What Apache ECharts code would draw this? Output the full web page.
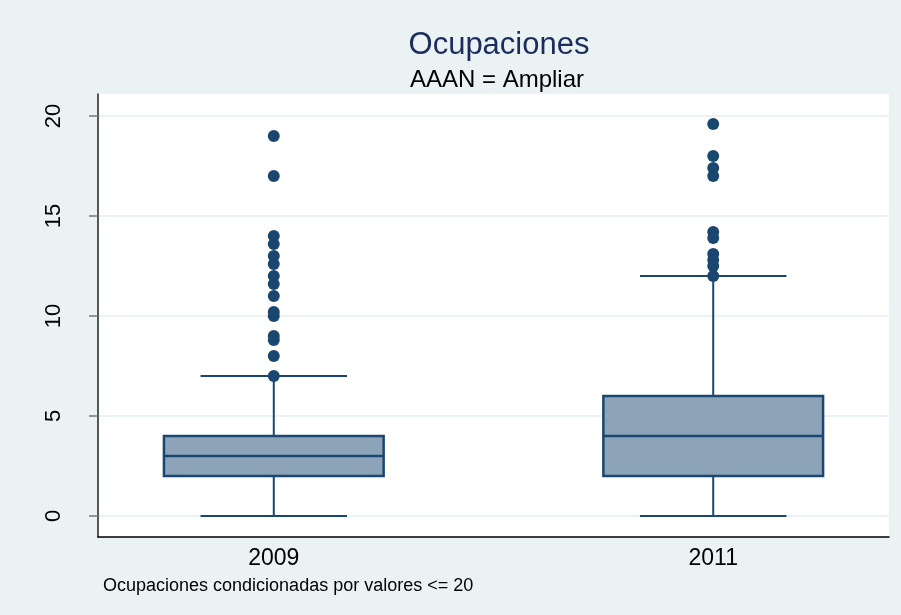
<!DOCTYPE html>
<html>
<head>
<meta charset="utf-8">
<script src="https://cdn.jsdelivr.net/npm/echarts@6/dist/echarts.min.js"></script>
<style>
  html, body { margin: 0; padding: 0; background: #eaf2f3; }
  #chart { width: 901px; height: 615px; }
</style>
</head>
<body>
<div id="chart"></div>
<script>
// box plot summary per year
const categories = ['2009', '2011'];
const lowWhisker = [0, 0];
const q1 = [2, 2];
const median = [3, 4];
const q3 = [4, 6];
const highWhisker = [7, 12];
const outliers2009 = [7, 8, 8.8, 9, 10, 10.2, 11, 11.6, 12, 12.6, 13, 13.6, 14, 17, 19];
const outliers2011 = [12, 12.5, 12.8, 13.1, 13.9, 14.2, 17, 17.4, 18, 19.6];
const yTicks = [0, 5, 10, 15, 20];

const navy = '#1a476f';
const font = 'Liberation Sans, Arial, sans-serif';

// x slot of each category on the 0..9 value axis
const slot = i => 2 + 5 * i;

const boxData = categories.map((c, i) =>
  [slot(i), lowWhisker[i], q1[i], median[i], q3[i], highWhisker[i]]);
const outlierData = []
  .concat(outliers2009.map(v => [slot(0), v]))
  .concat(outliers2011.map(v => [slot(1), v]));

function renderBox(params, api) {
  const x = api.value(0);
  const lo = api.coord([x, api.value(1)]);
  const b1 = api.coord([x, api.value(2)]);
  const md = api.coord([x, api.value(3)]);
  const b3 = api.coord([x, api.value(4)]);
  const hi = api.coord([x, api.value(5)]);
  const boxW = api.size([2.5, 0])[0];
  const capW = api.size([5 / 3, 0])[0];
  const cx = lo[0];
  const line = { stroke: navy, lineWidth: 2 };
  return {
    type: 'group',
    children: [
      { type: 'line', shape: { x1: cx, y1: lo[1], x2: cx, y2: b1[1] }, style: line },
      { type: 'line', shape: { x1: cx, y1: b3[1], x2: cx, y2: hi[1] }, style: line },
      { type: 'line', shape: { x1: cx - capW / 2, y1: lo[1], x2: cx + capW / 2, y2: lo[1] }, style: line },
      { type: 'line', shape: { x1: cx - capW / 2, y1: hi[1], x2: cx + capW / 2, y2: hi[1] }, style: line },
      { type: 'rect', shape: { x: cx - boxW / 2, y: b3[1], width: boxW, height: b1[1] - b3[1] },
        style: { fill: '#8ca3b8', stroke: navy, lineWidth: 2.5 } },
      { type: 'line', shape: { x1: cx - boxW / 2, y1: md[1], x2: cx + boxW / 2, y2: md[1] }, style: { stroke: navy, lineWidth: 2.5 } }
    ]
  };
}

const chart = echarts.init(document.getElementById('chart'));
chart.setOption({
  backgroundColor: '#eaf2f3',
  animation: false,
  title: [
    { text: 'Ocupaciones', left: 494, top: 25, textAlign: 'center',
      textStyle: { fontFamily: font, fontSize: 31, fontWeight: 'normal', color: '#1c2c5e' } },
    { text: 'AAAN = Ampliar', left: 492, top: 63, textAlign: 'center',
      textStyle: { fontFamily: font, fontSize: 24, fontWeight: 'normal', color: '#000' } },
    { text: 'Ocupaciones condicionadas por valores <= 20', left: 98, top: 572,
      textStyle: { fontFamily: font, fontSize: 18, fontWeight: 'normal', color: '#000' } }
  ],
  grid: {
    left: 98, right: 12, top: 94, bottom: 78,
    show: true, backgroundColor: '#ffffff', borderWidth: 0
  },
  xAxis: {
    type: 'value', min: 0, max: 9,
    axisLine: { show: true, onZero: false, lineStyle: { color: '#000', width: 1.5 } },
    axisTick: { show: false },
    splitLine: { show: false },
    axisLabel: {
      customValues: [slot(0), slot(1)],
      formatter: v => categories[Math.round((v - 2) / 5)],
      margin: 10, color: '#000', fontFamily: font, fontSize: 23
    }
  },
  yAxis: {
    type: 'value', min: -1.05, max: 21.1,
    axisLine: { show: true, onZero: false, lineStyle: { color: '#222', width: 1.5 } },
    axisTick: { show: true, length: 9, customValues: yTicks, lineStyle: { color: '#777', width: 1.5 } },
    splitLine: { show: true, lineStyle: { color: '#eaf2f3', width: 2 } },
    axisLabel: {
      customValues: yTicks, rotate: 90, margin: 33,
      color: '#000', fontFamily: font, fontSize: 22
    }
  },
  series: [
    { type: 'custom', data: boxData, renderItem: renderBox, z: 2,
      encode: { x: 0, y: [1, 2, 3, 4, 5] } },
    { type: 'scatter', data: outlierData, symbol: 'circle', symbolSize: 12, z: 3,
      itemStyle: { color: navy, opacity: 1 } }
  ]
});
</script>
</body>
</html>
